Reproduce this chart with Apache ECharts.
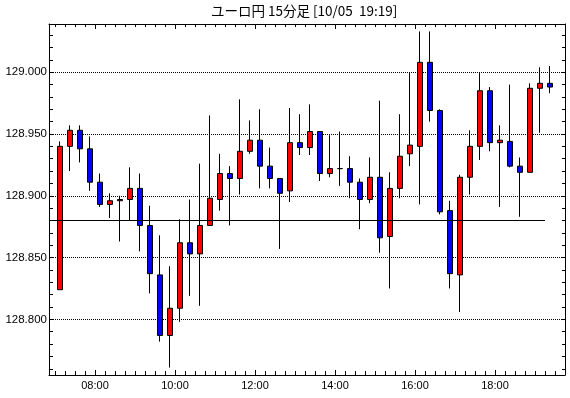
<!DOCTYPE html>
<html>
<head>
<meta charset="utf-8">
<title>ユーロ円 15分足</title>
<script src="https://cdn.jsdelivr.net/npm/echarts@6/dist/echarts.min.js"></script>
<style>
html, body { margin: 0; padding: 0; background: #fff; }
#chart { width: 570px; height: 398px; }
</style>
</head>
<body>
<div id="chart"></div>
<script>
// 15分足 (始値, 終値, 安値, 高値)
var times = ['07:00','07:15','07:30','07:45','08:00','08:15','08:30','08:45',
             '09:00','09:15','09:30','09:45','10:00','10:15','10:30','10:45',
             '11:00','11:15','11:30','11:45','12:00','12:15','12:30','12:45',
             '13:00','13:15','13:30','13:45','14:00','14:15','14:30','14:45',
             '15:00','15:15','15:30','15:45','16:00','16:15','16:30','16:45',
             '17:00','17:15','17:30','17:45','18:00','18:15','18:30','18:45',
             '19:00','19:15'];
var opens  = [128.824,128.940,128.953,128.938,128.911,128.893,128.896,128.897,
              128.906,128.876,128.836,128.787,128.809,128.862,128.853,128.876,
              128.897,128.918,128.914,128.936,128.945,128.924,128.914,128.904,
              128.943,128.939,128.952,128.918,128.922,128.922,128.911,128.897,
              128.915,128.867,128.906,128.934,128.940,129.008,128.969,128.888,
              128.836,128.915,128.940,128.985,128.943,128.944,128.924,128.919,
              128.987,128.991];
var closes = [128.940,128.953,128.938,128.911,128.893,128.896,128.897,128.906,
              128.876,128.837,128.787,128.809,128.862,128.853,128.876,128.898,
              128.918,128.914,128.936,128.945,128.924,128.914,128.902,128.943,
              128.939,128.952,128.918,128.922,128.922,128.911,128.897,128.915,
              128.866,128.906,128.932,128.941,129.008,128.969,128.887,128.837,
              128.915,128.940,128.985,128.943,128.945,128.924,128.919,128.987,
              128.991,128.988];
var lows   = [128.824,128.920,128.927,128.904,128.891,128.882,128.863,128.880,
              128.855,128.821,128.782,128.761,128.798,128.819,128.811,128.876,
              128.888,128.876,128.901,128.934,128.906,128.906,128.857,128.895,
              128.933,128.933,128.912,128.915,128.908,128.898,128.873,128.894,
              128.854,128.825,128.898,128.924,128.893,128.960,128.885,128.825,
              128.806,128.901,128.929,128.936,128.891,128.923,128.883,128.919,
              128.951,128.983];
var highs  = [128.944,128.957,128.957,128.948,128.918,128.902,128.900,128.923,
              128.918,128.892,128.868,128.843,128.881,128.897,128.926,128.965,
              128.934,128.924,128.978,128.961,128.970,128.939,128.914,128.971,
              128.966,128.974,128.952,128.949,128.952,128.932,128.914,128.931,
              128.977,128.919,128.966,129.000,129.033,129.033,128.970,128.896,
              128.917,128.953,129.000,128.988,128.957,128.990,128.931,128.991,
              129.004,129.005];

var xTickLabels = ['08:00','10:00','12:00','14:00','16:00','18:00'];
var yTickLabels = [128.800, 128.850, 128.900, 128.950, 129.000];

// 基準線
var refLevel = 128.880;
var refEndTime = '19:15';

var xMin = 411, xMax = 1185;      // 分
var yMin = 128.755, yMax = 129.039;

function toMin(t){
    var p = t.split(':');
    return parseInt(p[0], 10) * 60 + parseInt(p[1], 10);
}
function pad(n){ return (n < 10 ? '0' : '') + n; }
function fmtTime(m){ return pad(Math.floor(m / 60)) + ':' + pad(m % 60); }

var candleData = [];
for (var i = 0; i < times.length; i++) {
    candleData.push([toMin(times[i]) + 7.5, opens[i], closes[i], lows[i], highs[i]]);
}

var majorX = xTickLabels.map(toMin);
var minorX = [];
for (var m = 420; m <= 1170; m += 15) minorX.push(m);
var minorY = [];
for (var k = 12876; k <= 12903; k++) minorY.push(k / 100);

var black = '#000';
var labelFont = { color: black, fontSize: 11, fontFamily: 'Liberation Sans' };

function xAxisDef(pos, len, ticks, withLine, withLabel){
    return {
        type: 'value', position: pos, min: xMin, max: xMax,
        axisLine: { show: withLine, onZero: false, lineStyle: { color: black, width: 1 } },
        axisTick: { show: true, inside: true, length: len, customValues: ticks,
                    lineStyle: { color: black, width: 1 } },
        axisLabel: withLabel ? {
            show: true, customValues: majorX, margin: 5,
            color: labelFont.color, fontSize: labelFont.fontSize, fontFamily: labelFont.fontFamily,
            formatter: function(v){ return fmtTime(v); }
        } : { show: false },
        splitLine: { show: false }
    };
}

function initChart(){
    var myChart = echarts.init(document.getElementById('chart'));
    var option = {
        animation: false,
        backgroundColor: '#fff',
        title: {
            text: 'ユーロ円 15分足 [10/05  19:19]',
            left: 211, top: 4, padding: 0,
            textStyle: { fontFamily: 'Noto Sans CJK JP', fontSize: 13.5, fontWeight: 'normal', color: black }
        },
        grid: { left: 49, top: 24, right: 5, bottom: 23, outerBoundsMode: 'none' },
        xAxis: [
            xAxisDef('bottom', 5, majorX, true, true),
            xAxisDef('bottom', 4, minorX, false, false),
            xAxisDef('top', 5, majorX, true, false),
            xAxisDef('top', 3, minorX, false, false)
        ],
        yAxis: [
            {
                type: 'value', position: 'left', min: yMin, max: yMax,
                axisLine: { show: true, onZero: false, lineStyle: { color: black, width: 1 } },
                axisTick: { show: true, inside: true, length: 4, customValues: minorY,
                            lineStyle: { color: black } },
                axisLabel: { show: false },
                splitLine: { show: false }
            },
            {
                type: 'value', position: 'left', min: yMin, max: yMax,
                axisLine: { show: false, onZero: false },
                axisTick: { show: false, customValues: yTickLabels },
                axisLabel: {
                    show: true, customValues: yTickLabels, margin: 2,
                    color: labelFont.color, fontSize: 11.5, fontFamily: labelFont.fontFamily,
                    formatter: function(v){ return v.toFixed(3); }
                },
                splitLine: { show: true, lineStyle: { color: black, type: 'dotted', width: 1 } }
            },
            {
                type: 'value', position: 'right', min: yMin, max: yMax,
                axisLine: { show: true, onZero: false, lineStyle: { color: black, width: 1 } },
                axisTick: { show: true, inside: true, length: 3, customValues: minorY,
                            lineStyle: { color: black } },
                axisLabel: { show: false },
                splitLine: { show: false }
            }
        ],
        series: [{
            type: 'candlestick',
            xAxisIndex: 0,
            yAxisIndex: 0,
            barWidth: 6,
            data: candleData,
            itemStyle: {
                color: '#ff0000',
                color0: '#0000ff',
                borderColor: black,
                borderColor0: black,
                borderColorDoji: black,
                borderWidth: 1
            },
            markLine: {
                silent: true,
                symbol: ['none', 'none'],
                label: { show: false },
                lineStyle: { color: black, type: 'solid', width: 1 },
                data: [[
                    { coord: [xMin, refLevel] },
                    { coord: [toMin(refEndTime), refLevel] }
                ]]
            }
        }]
    };
    myChart.setOption(option);
}

initChart();
</script>
</body>
</html>
